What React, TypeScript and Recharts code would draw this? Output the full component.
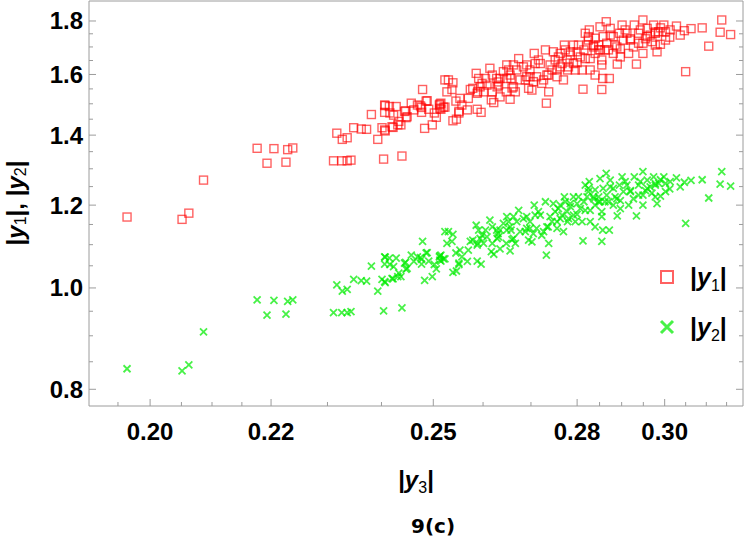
import React from 'react';
import { ScatterChart, Scatter, XAxis, YAxis, Legend } from 'recharts';

// each scan point has |y3| (x), |y1| (red) and |y2| (green)
const absY3 = [
  0.1964, 0.2051, 0.2062, 0.2086, 0.2176, 0.2193, 0.2205, 0.2226, 0.2229, 0.2238,
  0.2311, 0.2326, 0.2336, 0.2343, 0.2317, 0.2327, 0.2336, 0.2348, 0.2362, 0.2372,
  0.2381, 0.2393, 0.2404, 0.2439, 0.2401, 0.2406, 0.2406, 0.2407, 0.2428, 0.2423,
  0.2420, 0.2437, 0.2447, 0.2446, 0.2457, 0.2475, 0.2477, 0.2479, 0.2488, 0.2483,
  0.2498, 0.2506, 0.2513, 0.2520, 0.2527, 0.2537, 0.2539, 0.2551, 0.2568, 0.2553,
  0.2570, 0.2579, 0.2588, 0.2407, 0.2422, 0.2431, 0.2406, 0.2415, 0.2444, 0.2449,
  0.2469, 0.2477, 0.2486, 0.2491, 0.2512, 0.2515, 0.2523, 0.2515, 0.2523, 0.2530,
  0.2539, 0.2545, 0.2551, 0.2546, 0.2574, 0.2588, 0.2596, 0.2586, 0.2591, 0.2589,
  0.2598, 0.2605, 0.2614, 0.2608, 0.2619, 0.2617, 0.2622, 0.2628, 0.2629, 0.2635,
  0.2642, 0.2649, 0.2653, 0.2649, 0.2648, 0.2656, 0.2658, 0.2667, 0.2670, 0.2674,
  0.2684, 0.2691, 0.2695, 0.2702, 0.2707, 0.2709, 0.2712, 0.2720, 0.2723, 0.2731,
  0.2733, 0.2738, 0.2741, 0.2748, 0.2752, 0.2756, 0.2759, 0.2756, 0.2770, 0.2767,
  0.2772, 0.2779, 0.2781, 0.2792, 0.2800, 0.2803, 0.2811, 0.2813, 0.2818, 0.2822,
  0.2825, 0.2827, 0.2851, 0.2865, 0.2874, 0.2825, 0.2840, 0.2848, 0.2858, 0.2866,
  0.2855, 0.2855, 0.2857, 0.2872, 0.2855, 0.2829, 0.2840, 0.2881, 0.2890, 0.2901,
  0.2895, 0.2904, 0.2916, 0.2927, 0.2934, 0.2929, 0.2939, 0.2949, 0.2949, 0.2949,
  0.2959, 0.2966, 0.2970, 0.2974, 0.2982, 0.2990, 0.2998, 0.3002, 0.3012, 0.3013,
  0.3028, 0.3047, 0.3063, 0.3090, 0.3106, 0.3050, 0.3134, 0.3138, 0.3160, 0.2874,
  0.2885, 0.2908, 0.2920, 0.2943, 0.2955, 0.2978, 0.2990, 0.2848, 0.2836, 0.2897,
  0.2862, 0.2785, 0.2796, 0.2829, 0.2840, 0.2774, 0.2737, 0.2688, 0.2698, 0.2660,
  0.2557, 0.2631, 0.2978, 0.3002, 0.3037, 0.2594, 0.2601, 0.2632, 0.2663, 0.2677,
  0.2698, 0.2705, 0.2727, 0.2734, 0.2745, 0.2763, 0.2778, 0.2785, 0.2800, 0.2807,
  0.2792, 0.2763, 0.2716, 0.2691, 0.2663, 0.2656, 0.2635, 0.2619, 0.2815, 0.2837,
  0.2818, 0.2881, 0.2889, 0.2912, 0.2920, 0.2939, 0.2959, 0.2978, 0.2986, 0.2897,
  0.2870, 0.2851, 0.2513, 0.2502, 0.2462, 0.2416, 0.2433,
];

const absY1 = [
  1.169, 1.163, 1.179, 1.268, 1.360, 1.316, 1.359, 1.319, 1.356, 1.361,
  1.323, 1.323, 1.323, 1.325, 1.406, 1.387, 1.392, 1.423, 1.419, 1.418,
  1.465, 1.387, 1.328, 1.337, 1.423, 1.416, 1.472, 1.494, 1.491, 1.463,
  1.426, 1.432, 1.455, 1.477, 1.502, 1.493, 1.472, 1.548, 1.510, 1.421,
  1.432, 1.456, 1.499, 1.489, 1.540, 1.548, 1.445, 1.470, 1.480, 1.518,
  1.518, 1.552, 1.535, 1.413, 1.424, 1.432, 1.496, 1.491, 1.475, 1.458,
  1.496, 1.488, 1.509, 1.482, 1.496, 1.502, 1.489, 1.482, 1.581, 1.581,
  1.571, 1.509, 1.475, 1.450, 1.548, 1.482, 1.472, 1.604, 1.586, 1.540,
  1.569, 1.586, 1.622, 1.563, 1.540, 1.513, 1.504, 1.586, 1.557, 1.523,
  1.610, 1.634, 1.616, 1.586, 1.540, 1.515, 1.586, 1.540, 1.616, 1.657,
  1.627, 1.592, 1.552, 1.546, 1.676, 1.639, 1.592, 1.639, 1.569, 1.689,
  1.502, 1.540, 1.634, 1.682, 1.652, 1.616, 1.663, 1.592, 1.581, 1.639,
  1.707, 1.616, 1.627, 1.707, 1.642, 1.707, 1.616, 1.549, 1.657, 1.707,
  1.739, 1.765, 1.777, 1.797, 1.771, 1.726, 1.733, 1.707, 1.739, 1.714,
  1.652, 1.634, 1.586, 1.586, 1.548, 1.657, 1.676, 1.676, 1.637, 1.784,
  1.752, 1.726, 1.676, 1.700, 1.637, 1.784, 1.752, 1.804, 1.714, 1.676,
  1.771, 1.745, 1.720, 1.784, 1.682, 1.710, 1.784, 1.758, 1.737, 1.765,
  1.780, 1.762, 1.770, 1.773, 1.703, 1.610, 1.756, 1.804, 1.747, 1.745,
  1.707, 1.765, 1.731, 1.765, 1.731, 1.757, 1.773, 1.689, 1.707, 1.693,
  1.689, 1.670, 1.616, 1.616, 1.598, 1.689, 1.598, 1.581, 1.616, 1.553,
  1.496, 1.574, 1.707, 1.726, 1.745, 1.557, 1.540, 1.563, 1.557, 1.581,
  1.592, 1.575, 1.581, 1.598, 1.616, 1.627, 1.652, 1.682, 1.682, 1.663,
  1.639, 1.676, 1.652, 1.634, 1.634, 1.598, 1.586, 1.598, 1.689, 1.700,
  1.752, 1.739, 1.700, 1.752, 1.726, 1.714, 1.739, 1.752, 1.758, 1.663,
  1.689, 1.689, 1.485, 1.470, 1.480, 1.470, 1.443,
];

const absY2 = [
  0.837, 0.833, 0.844, 0.908, 0.974, 0.942, 0.973, 0.944, 0.971, 0.974,
  0.947, 0.947, 0.947, 0.949, 1.007, 0.993, 0.997, 1.019, 1.016, 1.015,
  1.049, 0.993, 0.951, 0.957, 1.019, 1.014, 1.054, 1.070, 1.068, 1.048,
  1.021, 1.025, 1.042, 1.058, 1.075, 1.069, 1.054, 1.108, 1.081, 1.017,
  1.025, 1.043, 1.073, 1.066, 1.103, 1.108, 1.035, 1.053, 1.060, 1.087,
  1.087, 1.111, 1.099, 1.012, 1.020, 1.025, 1.071, 1.068, 1.056, 1.044,
  1.071, 1.065, 1.080, 1.061, 1.071, 1.075, 1.066, 1.061, 1.132, 1.132,
  1.125, 1.080, 1.056, 1.038, 1.108, 1.061, 1.054, 1.148, 1.136, 1.103,
  1.123, 1.136, 1.161, 1.119, 1.103, 1.083, 1.077, 1.136, 1.115, 1.090,
  1.153, 1.170, 1.157, 1.136, 1.103, 1.085, 1.136, 1.103, 1.157, 1.186,
  1.165, 1.140, 1.111, 1.107, 1.200, 1.174, 1.140, 1.174, 1.123, 1.209,
  1.075, 1.103, 1.170, 1.204, 1.183, 1.157, 1.191, 1.140, 1.132, 1.174,
  1.222, 1.157, 1.165, 1.222, 1.176, 1.222, 1.157, 1.109, 1.186, 1.222,
  1.245, 1.264, 1.272, 1.287, 1.268, 1.236, 1.241, 1.222, 1.245, 1.227,
  1.183, 1.170, 1.136, 1.136, 1.108, 1.186, 1.200, 1.200, 1.172, 1.277,
  1.254, 1.236, 1.200, 1.217, 1.172, 1.277, 1.254, 1.292, 1.227, 1.200,
  1.268, 1.249, 1.232, 1.277, 1.204, 1.224, 1.277, 1.259, 1.244, 1.264,
  1.274, 1.262, 1.267, 1.269, 1.219, 1.153, 1.257, 1.292, 1.251, 1.249,
  1.222, 1.264, 1.239, 1.264, 1.239, 1.258, 1.269, 1.209, 1.222, 1.212,
  1.209, 1.196, 1.157, 1.157, 1.144, 1.209, 1.144, 1.132, 1.157, 1.112,
  1.071, 1.127, 1.222, 1.236, 1.249, 1.115, 1.103, 1.119, 1.115, 1.132,
  1.140, 1.127, 1.132, 1.144, 1.157, 1.165, 1.183, 1.204, 1.204, 1.191,
  1.174, 1.200, 1.183, 1.170, 1.170, 1.144, 1.136, 1.144, 1.209, 1.217,
  1.254, 1.245, 1.217, 1.254, 1.236, 1.227, 1.245, 1.254, 1.259, 1.191,
  1.209, 1.209, 1.063, 1.053, 1.060, 1.053, 1.033,
];

const xMajor = [0.2, 0.22, 0.25, 0.28, 0.3];
const xMinor = [0.195, 0.205, 0.21, 0.215, 0.23, 0.24, 0.26, 0.27, 0.285, 0.29, 0.295, 0.305, 0.31, 0.315];
const yMajor = [0.8, 1.0, 1.2, 1.4, 1.6, 1.8];
const yMinor = [0.85, 0.9, 0.95, 1.05, 1.1, 1.15, 1.25, 1.3, 1.35, 1.45, 1.5, 1.55, 1.65, 1.7, 1.75];

const xTicks = [...xMajor, ...xMinor].sort((a, b) => a - b);
const yTicks = [...yMajor, ...yMinor].sort((a, b) => a - b);

const X_DOMAIN = [0.1906, 0.3191];
const Y_DOMAIN = [0.7711, 1.881];

const y1Data = absY3.map((x, i) => ({ x, y: absY1[i] }));
const y2Data = absY3.map((x, i) => ({ x, y: absY2[i] }));

const FRAME = '#9c9c9c';
const FONT = '"Liberation Sans", Arial, Helvetica, sans-serif';
const RED = 'rgba(255, 0, 0, 0.62)';
const GREEN = 'rgba(0, 235, 0, 0.72)';
const TICK_FONT = 24;

const near = (list: number[], v: number) => list.some((m) => Math.abs(m - v) < 1e-6);

function BottomTick({ x, y, payload }: any) {
  const major = near(xMajor, payload.value);
  return (
    <g>
      <line x1={x} x2={x} y1={y} y2={y - (major ? 7 : 4)} stroke={FRAME} />
      {major && (
        <text x={x} y={y + 34} textAnchor="middle" fontFamily={FONT} fontWeight="bold" fontSize={TICK_FONT} fill="#000">
          {payload.value.toFixed(2)}
        </text>
      )}
    </g>
  );
}

function TopTick({ x, y, payload }: any) {
  const major = near(xMajor, payload.value);
  return <line x1={x} x2={x} y1={y} y2={y + (major ? 7 : 4)} stroke={FRAME} />;
}

function LeftTick({ x, y, payload }: any) {
  const major = near(yMajor, payload.value);
  return (
    <g>
      <line x1={x} x2={x + (major ? 7 : 4)} y1={y} y2={y} stroke={FRAME} />
      {major && (
        <text x={x - 6} y={y + 8.5} textAnchor="end" fontFamily={FONT} fontWeight="bold" fontSize={TICK_FONT} fill="#000">
          {payload.value.toFixed(1)}
        </text>
      )}
    </g>
  );
}

function RightTick({ x, y, payload }: any) {
  const major = near(yMajor, payload.value);
  return <line x1={x} x2={x - (major ? 7 : 4)} y1={y} y2={y} stroke={FRAME} />;
}

// |y_n| as tspans: upright bars, bold italic y, small subscript
const absParts = (sub: string, key: string) => [
  <tspan key={key + 'a'}>|</tspan>,
  <tspan key={key + 'b'} fontStyle="italic">y</tspan>,
  <tspan key={key + 'c'} fontSize={16} fontWeight={400} dy={5}>{sub}</tspan>,
  <tspan key={key + 'd'} dy={-5}>|</tspan>,
];

const SquareMark = (p: any) => (
  <rect x={p.cx - 4} y={p.cy - 4} width={8} height={8} fill="none" stroke={RED} strokeWidth={1.4} />
);

const CrossMark = (p: any) => (
  <path
    d={`M${p.cx - 3.5},${p.cy - 3.5}L${p.cx + 3.5},${p.cy + 3.5}M${p.cx - 3.5},${p.cy + 3.5}L${p.cx + 3.5},${p.cy - 3.5}`}
    stroke={GREEN}
    strokeWidth={1.8}
    fill="none"
  />
);

const XLabel = ({ viewBox }: any) => (
  <g fontFamily={FONT} fontWeight="bold" fill="#000">
    <text x={viewBox.x + viewBox.width / 2} y={488} textAnchor="middle" fontSize={TICK_FONT}>
      {absParts('3', 'x')}
    </text>
    <text x={433} y={533} textAnchor="middle" fontSize={20} fontFamily='"DejaVu Sans", sans-serif'>
      9(c)
    </text>
  </g>
);

const YLabel = () => (
  <text
    x={15}
    y={203}
    transform="rotate(-90, 15, 203)"
    textAnchor="middle"
    dominantBaseline="central"
    fontFamily={FONT}
    fontWeight="bold"
    fontSize={TICK_FONT}
    fill="#000"
  >
    {absParts('1', 'p')}
    <tspan>, </tspan>
    {absParts('2', 'q')}
  </text>
);

const LegendBox = () => (
  <svg width={92} height={92} style={{ overflow: 'visible' }}>
    <rect x={5} y={13} width={12} height={12} fill="none" stroke={RED} strokeWidth={2} />
    <path d="M5,63L17,75M5,75L17,63" stroke={GREEN} strokeWidth={3} />
    <g fontFamily={FONT} fontWeight="bold" fontSize={25} fill="#000">
      <text x={34} y={28}>{absParts('1', 'l')}</text>
      <text x={34} y={78}>{absParts('2', 'm')}</text>
    </g>
  </svg>
);

export default function App() {
  return (
    <div style={{ position: 'absolute', left: 0, top: 0, width: 747, height: 539, background: '#fff' }}>
      <ScatterChart width={747} height={539} margin={{ top: 0, right: 0, bottom: 0, left: 0 }}>
        <XAxis
          dataKey="x"
          type="number"
          scale="log"
          domain={X_DOMAIN}
          allowDataOverflow
          ticks={xTicks}
          interval={0}
          height={133}
          tickSize={0}
          tickMargin={0}
          tickLine={false}
          tick={<BottomTick />}
          axisLine={{ stroke: FRAME }}
          label={<XLabel />}
        />
        <XAxis
          xAxisId="top"
          orientation="top"
          type="number"
          scale="log"
          domain={X_DOMAIN}
          allowDataOverflow
          ticks={xTicks}
          interval={0}
          height={1}
          tickSize={0}
          tickMargin={0}
          tickLine={false}
          tick={<TopTick />}
          axisLine={{ stroke: FRAME }}
        />
        <YAxis
          dataKey="y"
          type="number"
          scale="log"
          domain={Y_DOMAIN}
          allowDataOverflow
          ticks={yTicks}
          interval={0}
          width={89}
          tickSize={0}
          tickMargin={0}
          tickLine={false}
          tick={<LeftTick />}
          axisLine={{ stroke: FRAME }}
          label={<YLabel />}
        />
        <YAxis
          yAxisId="right"
          orientation="right"
          type="number"
          scale="log"
          domain={Y_DOMAIN}
          allowDataOverflow
          ticks={yTicks}
          interval={0}
          width={4}
          tickSize={0}
          tickMargin={0}
          tickLine={false}
          tick={<RightTick />}
          axisLine={{ stroke: FRAME }}
        />
        <Legend
          layout="vertical"
          align="center"
          verticalAlign="middle"
          wrapperStyle={{ position: 'absolute', left: 656, top: 258, width: 92, height: 92 }}
          content={() => <LegendBox />}
        />
        <Scatter name="|y1|" data={y1Data} shape={SquareMark} isAnimationActive={false} />
        <Scatter name="|y2|" data={y2Data} shape={CrossMark} isAnimationActive={false} />
      </ScatterChart>
    </div>
  );
}
